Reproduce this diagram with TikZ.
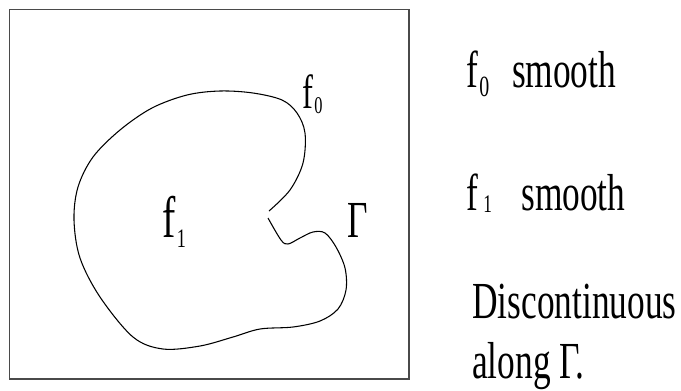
\documentclass[tikz,border=0pt]{standalone}
\usepackage{fontspec}
\setmainfont{Liberation Serif}
\newfontfamily\narrowserif[FakeStretch=0.68]{Liberation Serif}
\usepackage{tikz}
\definecolor{ink}{HTML}{000000}
\definecolor{frame}{HTML}{4A4A4A}
% lowered index: size, drop
\newcommand\lowidx[3]{\raisebox{-#2}{\fontsize{#1}{#1}\selectfont #3}}

\begin{document}
\begin{tikzpicture}[x=0.75pt,y=-0.75pt,
  text=ink,
  lbl/.style={font=\narrowserif\fontsize{39}{44}\selectfont, anchor=base west, inner sep=0pt},
  fnlbl/.style={font=\narrowserif\fontsize{36}{40}\selectfont, anchor=base west, inner sep=0pt},
  bigfnlbl/.style={font=\narrowserif\fontsize{44}{48}\selectfont, anchor=base west, inner sep=0pt},
  curve/.style={draw=ink, line width=0.8pt, line join=round}]

\path[use as bounding box] (0,0) rectangle (681,390);

% ------------------------------------------------------------------ domain
\draw[draw=frame, line width=1pt] (9.5,9.5) rectangle (409,379);

\draw[curve] plot[smooth, tension=0.55] coordinates {
  (269,211) (290,190) (303,163) (305,133) (297,113) (282,100) (253,93)
  (220,91) (187,95) (152,108) (120,130) (93,157) (78,187) (74,220)
  (80,258) (100,297) (133,337) (163,349) (200,346) (233,337) (260,329)
  (293,327) (320,321) (338,309) (346,290) (345,268) (336,247) (325,233)
  (313,232) (300,238) (288,244) (281,240) (268,218)};

\node[fnlbl] (fzero) at (302,108) {f\kern1pt\lowidx{18}{4pt}{0}};
\node[bigfnlbl] (fone) at (162,237) {f\kern1pt\lowidx{20}{8pt}{1}};
\node[lbl] (gamma) at (347,237) {Γ};

% ------------------------------------------------------------------ remarks
\node[lbl] (smzero) at (466,87) {f\kern1pt\lowidx{22}{7pt}{0}\hspace{17pt}smooth};
\node[lbl] (smone) at (466,210) {f\kern4pt\lowidx{19}{2pt}{1}\hspace{22pt}smooth};
\node[lbl] (disc) at (472,318) {Discontinuous};
\node[lbl] (along) at (472,378) {along Γ.};
\end{tikzpicture}
\end{document}
